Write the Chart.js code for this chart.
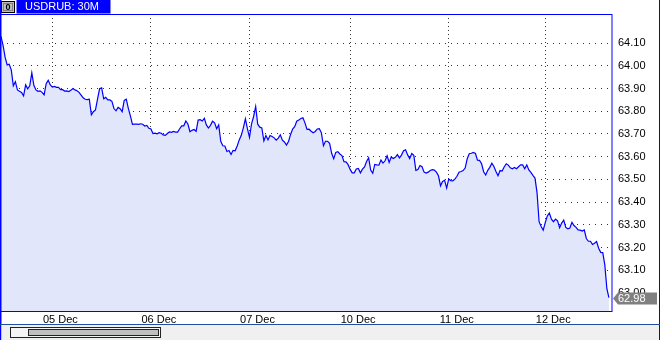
<!DOCTYPE html>
<html>
<head>
<meta charset="utf-8">
<script src="https://cdn.jsdelivr.net/npm/chart.js@4/dist/chart.umd.min.js"></script>
<style>
  html, body { margin: 0; padding: 0; background: #fff; }
  #chart { display: block; }
</style>
</head>
<body>
<canvas id="chart" width="660" height="340"></canvas>
<script>
// USDRUB 30M closes, one array per trading day
const dec04 = [64.13, 64.09, 64.038, 64.004, 64.007, 63.982, 63.912, 63.93, 63.894, 63.888,
  63.883, 63.868, 63.916, 63.899, 63.912, 63.969, 63.914, 63.894, 63.888, 63.89,
  63.883, 63.872, 63.921, 63.936, 63.916];
const dec05 = [63.906, 63.909, 63.905, 63.905, 63.895,
  63.895, 63.889, 63.89, 63.887, 63.892, 63.9, 63.894, 63.89, 63.883, 63.871,
  63.859, 63.853, 63.851, 63.853, 63.784, 63.798, 63.806, 63.853, 63.899, 63.903,
  63.855, 63.861, 63.85, 63.85, 63.844, 63.812, 63.802, 63.817, 63.811, 63.798,
  63.848, 63.853, 63.813, 63.78, 63.742, 63.743, 63.743, 63.742, 63.745, 63.743,
  63.735, 63.738, 63.725];
const dec06 = [63.722, 63.702, 63.704, 63.701, 63.706, 63.703, 63.696,
  63.694, 63.702, 63.709, 63.707, 63.711, 63.708, 63.708, 63.723, 63.736, 63.736,
  63.757, 63.744, 63.71, 63.716, 63.72, 63.712, 63.761, 63.763, 63.757, 63.769,
  63.74, 63.726, 63.738, 63.756, 63.749, 63.723, 63.74, 63.668, 63.648, 63.647,
  63.623, 63.627, 63.61, 63.628, 63.626, 63.647, 63.674, 63.694, 63.727, 63.767,
  63.722];
const dec07 = [63.685, 63.745, 63.777, 63.821, 63.743, 63.73, 63.727, 63.669, 63.693,
  63.674, 63.693, 63.689, 63.683, 63.673, 63.682, 63.696, 63.673, 63.665, 63.651,
  63.667, 63.698, 63.722, 63.732, 63.756, 63.761, 63.768, 63.771, 63.749, 63.72,
  63.721, 63.712, 63.705, 63.711, 63.722, 63.723, 63.705, 63.648, 63.668, 63.668,
  63.659, 63.615, 63.591, 63.619, 63.622, 63.612, 63.605, 63.578, 63.577, 63.565];
const dec10 = [63.544, 63.529, 63.529, 63.546, 63.548, 63.529, 63.545, 63.555, 63.579, 63.595,
  63.541, 63.527, 63.566, 63.564, 63.563, 63.585, 63.572, 63.582, 63.604, 63.575,
  63.599, 63.592, 63.597, 63.609, 63.595, 63.607, 63.626, 63.63, 63.608, 63.592,
  63.614, 63.606, 63.54, 63.544, 63.561, 63.556, 63.532, 63.528, 63.532, 63.539,
  63.543, 63.541, 63.532, 63.516, 63.472, 63.491, 63.496, 63.462];
const dec11 = [63.502, 63.495,
  63.494, 63.501, 63.514, 63.532, 63.535, 63.539, 63.55, 63.591, 63.613, 63.615,
  63.619, 63.614, 63.585, 63.584, 63.569, 63.534, 63.52, 63.54, 63.553, 63.571,
  63.557, 63.535, 63.516, 63.539, 63.537, 63.555, 63.569, 63.563, 63.551, 63.547,
  63.553, 63.547, 63.556, 63.564, 63.564, 63.547, 63.564, 63.542, 63.531, 63.518,
  63.506, 63.442, 63.314, 63.293, 63.277];
const dec12 = [63.31, 63.339, 63.352, 63.325, 63.314,
  63.325, 63.318, 63.287, 63.308, 63.321, 63.289, 63.283, 63.286, 63.311, 63.297,
  63.289, 63.278, 63.277, 63.273, 63.278, 63.24, 63.228, 63.228, 63.214, 63.219,
  63.227, 63.197, 63.179, 63.178, 63.124, 63.019, 62.98];

const days = [dec04, dec05, dec06, dec07, dec10, dec11, dec12];
const dayLabels = ['05 Dec', '06 Dec', '07 Dec', '10 Dec', '11 Dec', '12 Dec'];
const yTicks = [63.0, 63.1, 63.2, 63.3, 63.4, 63.5, 63.6, 63.7, 63.8, 63.9, 64.0, 64.1];
const yMin = 62.921;
const yMax = 64.228;

const prices = days.flat();
// bar index where each labelled day begins
const dayStarts = [];
let acc = 0;
days.forEach((d, i) => {
  if (i > 0) dayStarts.push(acc);
  acc += d.length;
});

const BLUE = '#0000ff';
const FONT = 'Liberation Sans';

const chrome = {
  id: 'chrome',
  afterDraw(chart) {
    const ctx = chart.ctx;
    const { left, top, right, bottom } = chart.chartArea;
    const W = chart.width, H = chart.height;
    ctx.save();

    // plot frame
    ctx.strokeStyle = BLUE;
    ctx.lineWidth = 1;
    ctx.strokeRect(left - 0.5, top + 0.5, right - left + 0.5, bottom - top);
    ctx.fillStyle = BLUE;
    ctx.fillRect(0, 0, 1.5, H);
    ctx.fillRect(W - 1, 0, 1, H);

    // bottom strip with scrollbar
    ctx.fillStyle = '#f0f0f0';
    ctx.fillRect(1.5, 325, W - 2.5, H - 325);
    ctx.strokeStyle = '#1f4fa0';
    ctx.beginPath();
    ctx.moveTo(0, 324.5);
    ctx.lineTo(W, 324.5);
    ctx.stroke();
    ctx.fillStyle = '#f4f4f4';
    ctx.fillRect(10.5, 327.5, 150, 10);
    ctx.strokeStyle = '#222';
    ctx.strokeRect(10.5, 327.5, 150, 10);
    ctx.fillStyle = '#c0c0c0';
    ctx.fillRect(28.5, 329.5, 130, 6);
    ctx.strokeRect(28.5, 329.5, 130, 6);

    // title tab
    ctx.fillStyle = BLUE;
    ctx.fillRect(16.5, 0, 94, 13.5);
    ctx.fillStyle = '#fff';
    ctx.font = `11px "${FONT}"`;
    ctx.textBaseline = 'middle';
    ctx.textAlign = 'left';
    ctx.fillText('USDRUB: 30M', 25, 7);
    ctx.fillStyle = '#c0c0c0';
    ctx.fillRect(1.5, 1.5, 13, 11);
    ctx.strokeStyle = '#000';
    ctx.strokeRect(1.5, 1.5, 13, 11);
    ctx.strokeStyle = '#808080';
    ctx.strokeRect(3.5, 3.5, 9, 7);
    ctx.fillStyle = '#000';
    ctx.font = `bold 9px "${FONT}"`;
    ctx.textAlign = 'center';
    ctx.fillText('0', 8, 7.5);

    // last price marker
    const last = prices[prices.length - 1];
    const y = Math.round(chart.scales.y.getPixelForValue(last)) + 0.5;
    ctx.fillStyle = '#808080';
    ctx.beginPath();
    ctx.moveTo(613, y);
    ctx.lineTo(618, y - 6);
    ctx.lineTo(657, y - 6);
    ctx.lineTo(657, y + 6);
    ctx.lineTo(618, y + 6);
    ctx.closePath();
    ctx.fill();
    ctx.fillStyle = '#fff';
    ctx.font = `11px "${FONT}"`;
    ctx.textAlign = 'left';
    ctx.fillText(last.toFixed(2), 618, y + 0.5);
    ctx.restore();
  },
};

new Chart(document.getElementById('chart'), {
  type: 'line',
  data: {
    datasets: [{
      data: prices.map((p, i) => ({ x: i, y: p })),
      borderColor: BLUE,
      borderWidth: 1.2,
      backgroundColor: '#e1e6fa',
      fill: 'start',
      pointRadius: 0,
      tension: 0,
    }],
  },
  options: {
    responsive: false,
    animation: false,
    devicePixelRatio: 1,
    layout: { padding: { top: 14, left: 1, right: 0, bottom: 16 } },
    plugins: { legend: { display: false }, tooltip: { enabled: false } },
    scales: {
      x: {
        type: 'linear',
        min: 0,
        max: prices.length + 0.5,
        afterBuildTicks: (s) => { s.ticks = dayStarts.map((v) => ({ value: v })); },
        afterFit: (s) => { s.height = 13; },
        grid: { color: '#333', lineWidth: 1, drawTicks: false },
        border: { display: false, dash: [1, 3] },
        ticks: {
          autoSkip: false,
          maxRotation: 0,
          padding: 2,
          labelOffset: 8,
          color: '#000',
          font: { family: FONT, size: 11 },
          callback: (v, i) => dayLabels[i],
        },
      },
      y: {
        type: 'linear',
        position: 'right',
        min: yMin,
        max: yMax,
        afterBuildTicks: (s) => { s.ticks = yTicks.map((v) => ({ value: v })); },
        afterFit: (s) => { s.width = 48; },
        grid: { color: '#333', lineWidth: 1, drawTicks: false },
        border: { display: false, dash: [1, 5] },
        ticks: {
          padding: 6,
          color: '#000',
          font: { family: FONT, size: 11 },
          callback: (v) => Number(v).toFixed(2),
        },
      },
    },
  },
  plugins: [chrome],
});
</script>
</body>
</html>
